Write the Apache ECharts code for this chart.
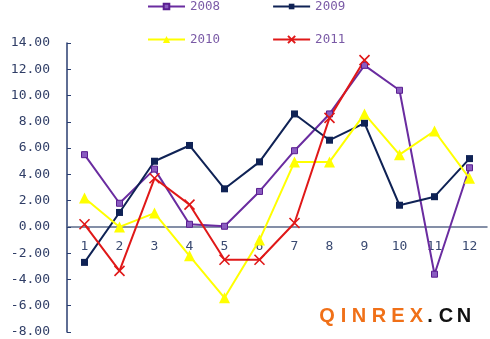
<!DOCTYPE html>
<html><head><meta charset="utf-8">
<script src="https://cdn.jsdelivr.net/npm/echarts@6/dist/echarts.min.js"></script>
<style>html,body{margin:0;padding:0;background:#fff}#c{width:490px;height:339px}</style>
</head><body><div id="c"></div>
<script>
const months = ['1','2','3','4','5','6','7','8','9','10','11','12'];
const s2008 = [5.5, 1.8, 4.4, 0.2, 0.05, 2.7, 5.8, 8.6, 12.3, 10.4, -3.6, 4.5];
const s2009 = [-2.7, 1.1, 5.0, 6.2, 2.9, 4.95, 8.6, 6.6, 7.9, 1.65, 2.3, 5.2];
const s2010 = [2.2, 0.0, 1.05, -2.2, -5.4, -1.0, 4.95, 4.95, 8.6, 5.5, 7.3, 3.7];
const s2011 = [0.2, -3.35, 3.7, 1.7, -2.5, -2.5, 0.3, 8.3, 12.7, null, null, null];
const yMin = -8, yMax = 14, yStep = 2;
const watermark = 'QINREX.CN';

const fontMono = '"DejaVu Sans Mono", monospace';
const xPath = 'path://M0,0L10,10M10,0L0,10';
const chart = echarts.init(document.getElementById('c'), null, {renderer: 'canvas'});

const gridTop = 43, gridBottomY = 332;
const gridH = gridBottomY - gridTop;
// move the category axis (line, ticks, labels) up to the value 0
const zeroOffset = -gridH * (0 - yMin) / (yMax - yMin);

const wmX = [327, 343.5, 359, 379, 398, 416.5, 430, 446, 464];
const wmGraphics = watermark.split('').map((ch, i) => ({
  type: 'text', x: wmX[i], y: 316,
  style: {text: ch, fill: i < 6 ? '#F07018' : '#111', font: 'bold 20px "Liberation Sans", Arial', textAlign: 'center', textVerticalAlign: 'middle'}
}));

const legendText = {color: '#7A5AA6', fontFamily: fontMono, fontSize: 12.5};
chart.setOption({
  animation: false,
  backgroundColor: '#fff',
  grid: {left: 67, right: 3, top: gridTop, bottom: 339 - gridBottomY, containLabel: false, outerBoundsMode: 'none'},
  legend: [
    {data: ['2008', '2009'], left: 147, top: 0, padding: 0, itemWidth: 37, itemHeight: 7, itemGap: 52, textStyle: legendText},
    {data: ['2010', '2011'], left: 147, top: 33, padding: 0, itemWidth: 37, itemHeight: 9, itemGap: 52, textStyle: legendText}
  ],
  xAxis: {
    type: 'category', data: months, boundaryGap: true, position: 'bottom', offset: zeroOffset,
    axisLine: {onZero: false, lineStyle: {color: '#5C6B8A', width: 1.5}},
    axisTick: {inside: true, length: 4, lineStyle: {color: '#5C6B8A'}},
    axisLabel: {color: '#3A4A72', fontFamily: fontMono, fontSize: 13, margin: 13},
    splitLine: {show: false}
  },
  yAxis: {
    type: 'value', min: yMin, max: yMax, interval: yStep,
    axisLine: {show: true, lineStyle: {color: '#2A3E70', width: 1.5}},
    axisTick: {show: true, inside: true, length: 4, lineStyle: {color: '#2A3E70'}},
    axisLabel: {color: '#2F3D66', fontFamily: fontMono, fontSize: 13, margin: 17, formatter: v => v.toFixed(2)},
    splitLine: {show: false}
  },
  series: [
    {name: '2008', type: 'line', data: s2008, symbol: 'rect', symbolSize: 6, color: '#6A2CA0',
      lineStyle: {width: 2, color: '#6A2CA0'}, itemStyle: {color: '#8A5CC0', borderColor: '#5A1E90', borderWidth: 1}},
    {name: '2009', type: 'line', data: s2009, symbol: 'rect', symbolSize: 7, color: '#0F2255',
      lineStyle: {width: 2, color: '#0F2255'}, itemStyle: {color: '#0F2255'}},
    {name: '2010', type: 'line', data: s2010, symbol: 'triangle', symbolSize: 11, color: '#FFFF00',
      lineStyle: {width: 2, color: '#FFFF00'}, itemStyle: {color: '#FFFF00'}},
    {name: '2011', type: 'line', data: s2011, symbol: xPath, symbolSize: 10, color: '#E01818',
      lineStyle: {width: 2, color: '#E01818'}, itemStyle: {color: 'none', borderColor: '#E01818', borderWidth: 1.6}}
  ],
  graphic: wmGraphics
});
</script></body></html>
